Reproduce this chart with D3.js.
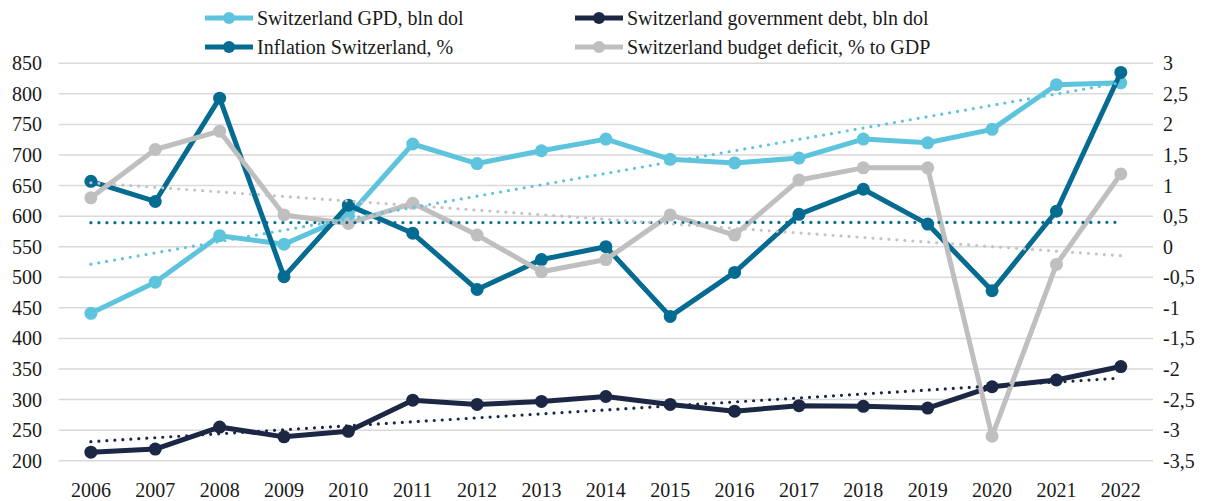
<!DOCTYPE html>
<html>
<head>
<meta charset="utf-8">
<script src="https://d3js.org/d3.v7.min.js"></script>
<style>
  body { margin: 0; background: #fff; }
  text { font-family: "Liberation Serif", "DejaVu Serif", serif; fill: #1a1a1a; }
</style>
</head>
<body>
<script>
// data
var years = ["2006","2007","2008","2009","2010","2011","2012","2013","2014","2015","2016","2017","2018","2019","2020","2021","2022"];
var gdp = [441, 492, 568, 554, 600, 718, 686, 707, 726, 693, 687, 695, 726, 720, 742, 815, 818];
var debt = [214, 219, 255, 239, 248, 299, 292, 297, 305, 292, 281, 290, 289, 286, 321, 332, 354];
var inflation = [1.07, 0.74, 2.43, -0.49, 0.68, 0.22, -0.70, -0.21, 0.0, -1.14, -0.42, 0.53, 0.94, 0.37, -0.72, 0.58, 2.85];
var deficit = [0.80, 1.59, 1.89, 0.52, 0.38, 0.71, 0.19, -0.41, -0.21, 0.52, 0.19, 1.09, 1.29, 1.29, -3.10, -0.29, 1.19];

var leftTicks = d3.range(200, 851, 50);
var rightTicks = d3.range(-3.5, 3.01, 0.5);

var svg = d3.select("body").append("svg")
    .attr("width", 1206)
    .attr("height", 501);

var x = d3.scaleBand().domain(years).range([58.7, 1153]);
var yL = d3.scaleLinear().domain([200, 850]).range([460.7, 63.3]);
var yR = d3.scaleLinear().domain([-3.5, 3]).range([460.7, 63.3]);

function cx(i) { return x(years[i]) + x.bandwidth() / 2; }

// gridlines
svg.append("g").selectAll("line")
    .data(leftTicks)
    .enter().append("line")
    .attr("x1", 58.7).attr("x2", 1153)
    .attr("y1", d => yL(d)).attr("y2", d => yL(d))
    .attr("stroke", "#d9d9d9")
    .attr("stroke-width", 1.5);

// left axis labels
svg.append("g").selectAll("text")
    .data(leftTicks)
    .enter().append("text")
    .attr("x", 42)
    .attr("y", d => yL(d))
    .attr("dy", "0.35em")
    .attr("text-anchor", "end")
    .attr("font-size", 20)
    .text(d => d);

// right axis labels (comma decimals)
svg.append("g").selectAll("text")
    .data(rightTicks)
    .enter().append("text")
    .attr("x", 1163)
    .attr("y", d => yR(d))
    .attr("dy", "0.35em")
    .attr("font-size", 20)
    .text(d => String(Math.round(d * 10) / 10).replace(".", ","));

// x labels
svg.append("g").selectAll("text")
    .data(years)
    .enter().append("text")
    .attr("x", (d, i) => cx(i))
    .attr("y", 497)
    .attr("text-anchor", "middle")
    .attr("font-size", 20)
    .text(d => d);

var series = [
    { name: "Switzerland GPD, bln dol", values: gdp, y: yL, color: "#5ec4dd", trend: "#5ec4dd" },
    { name: "Switzerland government debt, bln dol", values: debt, y: yL, color: "#1b2744", trend: "#1b2744" },
    { name: "Inflation Switzerland, %", values: inflation, y: yR, color: "#056b91", trend: "#056b91" },
    { name: "Switzerland budget deficit, % to GDP", values: deficit, y: yR, color: "#bfbfbf", trend: "#c4c4c4" }
];

// least squares fit over the year index
function fit(vals) {
    var n = vals.length, mx = (n - 1) / 2, my = d3.mean(vals);
    var sxy = 0, sxx = 0;
    vals.forEach(function(v, i) { sxy += (i - mx) * (v - my); sxx += (i - mx) * (i - mx); });
    var b = sxy / sxx;
    return [my - b * mx, my + b * (n - 1 - mx)];
}

series.forEach(function(s) {
    var line = d3.line()
        .x((d, i) => cx(i))
        .y(d => s.y(d));
    svg.append("path")
        .datum(s.values)
        .attr("d", line)
        .attr("fill", "none")
        .attr("stroke", s.color)
        .attr("stroke-width", 5)
        .attr("stroke-linejoin", "round");
    svg.append("g").selectAll("circle")
        .data(s.values)
        .enter().append("circle")
        .attr("cx", (d, i) => cx(i))
        .attr("cy", d => s.y(d))
        .attr("r", 6.5)
        .attr("fill", s.color);
});

// dotted trend lines
series.forEach(function(s) {
    var ends = fit(s.values);
    svg.append("line")
        .attr("x1", cx(0)).attr("x2", cx(years.length - 1))
        .attr("y1", s.y(ends[0])).attr("y2", s.y(ends[1]))
        .attr("stroke", s.trend)
        .attr("stroke-width", 3.2)
        .attr("stroke-linecap", "round")
        .attr("stroke-dasharray", "0 8");
});

// legend, two rows
var legendPos = [[205, 18], [575, 18], [205, 47], [575, 47]];
series.forEach(function(s, i) {
    var g = svg.append("g")
        .attr("transform", "translate(" + legendPos[i][0] + "," + legendPos[i][1] + ")");
    g.append("line")
        .attr("x1", 0).attr("x2", 48)
        .attr("stroke", s.color)
        .attr("stroke-width", 5);
    g.append("circle")
        .attr("cx", 24)
        .attr("r", 6)
        .attr("fill", s.color);
    g.append("text")
        .attr("x", 52)
        .attr("dy", "0.35em")
        .attr("font-size", 20)
        .text(s.name);
});
</script>
</body>
</html>
